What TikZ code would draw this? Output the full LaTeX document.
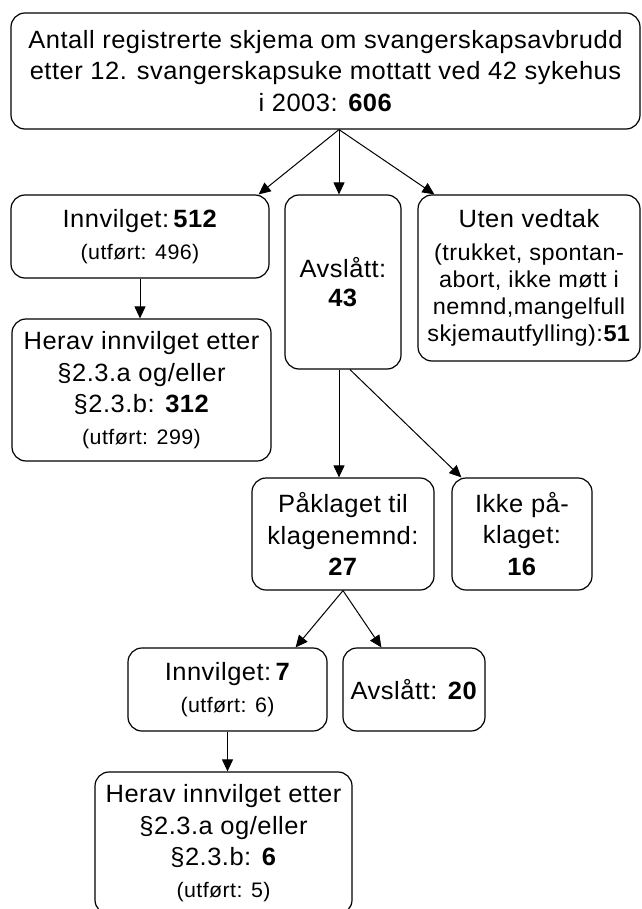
\documentclass[tikz,border=0pt]{standalone}
\usepackage{fontspec}
\setmainfont[FakeStretch=1.02, LetterSpace=2.0]{Liberation Sans}
\usetikzlibrary{arrows.meta}
\newcommand{\smalltxt}{\fontsize{21}{31}\selectfont}
\newcommand{\tighttxt}{\fontsize{23}{27}\selectfont}
\begin{document}
\begin{tikzpicture}
                [x=1pt, y=-1pt,
                bsty/.style={draw, rounded corners=14pt, line width=1.2pt, align=center, inner sep=0pt,
                             font=\fontsize{25}{31.5}\selectfont},
                asty/.style={-{Triangle[length=12pt, width=11pt]}, line width=1pt}]
                \useasboundingbox (0,0) rectangle (641,909);
                % nodes
                \node[bsty, minimum width=629pt, minimum height=116pt] (top) at (325.5,71)
                    {Antall registrerte skjema om svangerskapsavbrudd\\ etter 12. svangerskapsuke mottatt ved 42 sykehus\\ i 2003: \textbf{606}};
                \node[bsty, minimum width=258pt, minimum height=83pt] (innv) at (140,236.5)
                    {Innvilget:\,\textbf{512}\\ \smalltxt (utført: 496)};
                \node[bsty, minimum width=116pt, minimum height=174pt] (avsl) at (343,282)
                    {Avslått:\\[-3pt] \textbf{43}};
                \node[bsty, minimum width=222pt, minimum height=166pt, font=\tighttxt] (uten) at (529,278)
                    {{\fontsize{25}{27}\selectfont Uten vedtak}\\[6pt] (trukket, spontan-\\ abort, ikke møtt i\\ nemnd,mangelfull\\ skjemautfylling):\textbf{51}};
                \node[bsty, minimum width=259pt, minimum height=142pt] (herav) at (141.5,390)
                    {Herav innvilget etter\\ §2.3.a og/eller\\ §2.3.b: \textbf{312}\\ \smalltxt (utført: 299)};
                \node[bsty, minimum width=182pt, minimum height=112pt] (paakl) at (343,534)
                    {Påklaget til\\ klagenemnd:\\ \textbf{27}};
                \node[bsty, minimum width=140pt, minimum height=112pt] (ikke) at (522,534)
                    {Ikke på-\\ klaget:\\ \textbf{16}};
                \node[bsty, minimum width=199pt, minimum height=83pt] (innvk) at (227.5,689.5)
                    {Innvilget:\,\textbf{7}\\ \smalltxt (utført: 6)};
                \node[bsty, minimum width=142pt, minimum height=83pt] (avslk) at (414,689.5)
                    {Avslått: \textbf{20}};
                \node[bsty, minimum width=257pt, minimum height=142pt] (heravk) at (223.5,843)
                    {Herav innvilget etter\\ §2.3.a og/eller\\ §2.3.b: \textbf{6}\\ \smalltxt (utført: 5)};
                \coordinate (hub) at ([xshift=13.5pt]top.south);
                % arrows
                \draw[asty] (hub) -- ([xshift=-11pt]innv.north east);
                \draw[asty] (hub) -- (hub |- avsl.north);
                \draw[asty] (hub) -- ([xshift=17pt]uten.north west);
                \draw[asty] (innv.south) -- (innv.south |- herav.north);
                \draw[asty] (avsl.south -| hub) -- (paakl.north -| hub);
                \draw[asty] ([xshift=7pt]avsl.south) -- ([xshift=10pt]ikke.north west);
                \draw[asty] (paakl.south) -- ([xshift=-32pt]innvk.north east);
                \draw[asty] (paakl.south) -- ([xshift=39pt]avslk.north west);
                \draw[asty] (innvk.south) -- (innvk.south |- heravk.north);
            \end{tikzpicture}
\end{document}
